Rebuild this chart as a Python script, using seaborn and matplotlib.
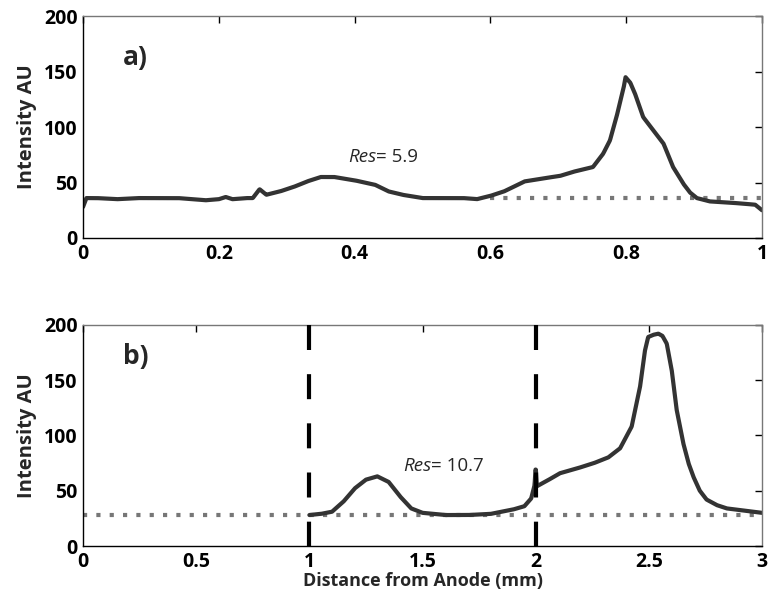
import matplotlib
matplotlib.use("Agg")
import matplotlib.pyplot as plt
import seaborn as sns
import numpy as np
import pandas as pd

sns.set_theme(style="white")
plt.rcParams['font.family'] = ['Open Sans', 'DejaVu Sans']

# Panel a) profile
xa = [0.0, 0.005, 0.02, 0.05, 0.08, 0.11, 0.14, 0.16, 0.18, 0.20, 0.21, 0.22, 0.24, 0.25,
      0.26, 0.27, 0.29, 0.31, 0.33, 0.35, 0.37, 0.40, 0.43, 0.45, 0.47, 0.50, 0.53, 0.56,
      0.58, 0.60, 0.62, 0.65, 0.68, 0.7025, 0.722, 0.751, 0.766, 0.776, 0.786, 0.796,
      0.799, 0.806, 0.813, 0.825, 0.84, 0.855, 0.869, 0.884, 0.894, 0.904, 0.923, 0.95,
      0.972, 0.99, 1.0]
ya = [28, 36, 36, 35, 36, 36, 36, 35, 34, 35, 37, 35, 36, 36,
      44, 39, 42, 46, 51, 55, 55, 52, 48, 42, 39, 36, 36, 36,
      35, 38, 42, 51, 54, 56, 59.7, 64, 76, 88, 110, 135,
      145, 140, 130, 109, 97, 85, 64, 49, 41, 36, 33, 32,
      31, 30, 25]

# Panel b) profile
xb = [1.0, 1.05, 1.1, 1.15, 1.2, 1.25, 1.3, 1.35, 1.4, 1.45, 1.5, 1.6, 1.7, 1.8, 1.9,
      1.95, 1.98, 1.995, 2.0, 2.005, 2.05, 2.107, 2.18, 2.255, 2.32, 2.373, 2.424,
      2.461, 2.483, 2.497, 2.52, 2.542, 2.56, 2.579, 2.601, 2.623, 2.652, 2.675, 2.696,
      2.725, 2.755, 2.8, 2.844, 2.92, 3.0]
yb = [28, 29, 31, 40, 52, 60, 63, 58, 45, 34, 30, 28, 28, 29, 33,
      36, 43, 55, 72, 54, 59, 65.8, 70, 74.8, 80, 88.4, 108,
      144, 177, 189, 191, 192, 190, 183, 159, 123, 93, 75, 63,
      50, 42, 37, 34, 32, 30]

base_a = 36
base_b = 28
res_a = "5.9"
res_b = "10.7"
vlines_b = [1, 2]

fig = plt.figure(figsize=(7.76, 6.01), dpi=100)
ax1 = fig.add_axes([0.107, 0.604, 0.875, 0.369])
ax2 = fig.add_axes([0.107, 0.0915, 0.875, 0.368])

line_c = '#333333'
dot_c = '#777777'

def dense(x, y, n=1200):
    xs = np.linspace(min(x), max(x), n)
    return xs, np.interp(xs, x, y)

da = pd.DataFrame(dict(zip(['x', 'y'], dense(xa, ya))))
db = pd.DataFrame(dict(zip(['x', 'y'], dense(xb, yb))))

ax1.plot([0.6, 1.0], [base_a, base_a], ls=(0, (1, 2.2)), color=dot_c, lw=3, zorder=1)
sns.lineplot(data=da, x='x', y='y', ax=ax1, color=line_c, lw=3, zorder=2)

ax2.plot([0, 3], [base_b, base_b], ls=(0, (1, 2.2)), color=dot_c, lw=3, zorder=1)
for v in vlines_b:
    ax2.plot([v, v], [200, 0], ls=(0, (6, 5.8)), color='black', lw=3, zorder=3,
             solid_capstyle='butt', dash_capstyle='butt')
sns.lineplot(data=db, x='x', y='y', ax=ax2, color=line_c, lw=3, zorder=2)

ax1.set_xlim(0, 1)
ax2.set_xlim(0, 3)
ax1.set_xticks([0, 0.2, 0.4, 0.6, 0.8, 1])
ax1.set_xticklabels(['0', '0.2', '0.4', '0.6', '0.8', '1'])
ax2.set_xticks([0, 0.5, 1, 1.5, 2, 2.5, 3])
ax2.set_xticklabels(['0', '0.5', '1', '1.5', '2', '2.5', '3'])

for ax in (ax1, ax2):
    ax.set_ylim(0, 200)
    ax.set_yticks([0, 50, 100, 150, 200])
    ax.tick_params(direction='in', length=5, width=1, colors='black',
                   top=True, right=True, labelsize=14, pad=4)
    for lab in ax.get_xticklabels() + ax.get_yticklabels():
        lab.set_fontweight('bold')
    for s in ax.spines.values():
        s.set_visible(True)
        s.set_color('black')
        s.set_linewidth(1)
    ax.spines['top'].set_color('#777777')
    ax.spines['right'].set_color('#777777')
    ax.set_ylabel('Intensity AU', fontsize=14.5, fontweight='bold', labelpad=5)

ax1.set_xlabel('')
ax2.set_xlabel('Distance from Anode (mm)', fontsize=13, fontweight='bold', labelpad=0)

ax1.text(0.059, 163, 'a)', fontsize=19, fontweight='bold', va='center', ha='left')
ax2.text(0.177, 171, 'b)', fontsize=19, fontweight='bold', va='center', ha='left')


def res_label(ax, x, y, val):
    t = ax.text(x, y, 'Res', fontsize=13.5, style='italic', va='center', ha='left')
    fig.canvas.draw()
    bb = t.get_window_extent().transformed(ax.transData.inverted())
    ax.text(bb.x1, y, '= ' + val, fontsize=13.5, va='center', ha='left')


res_label(ax1, 0.39, 73, res_a)
res_label(ax2, 1.414, 72, res_b)

fig.savefig('out.png', dpi=100)
